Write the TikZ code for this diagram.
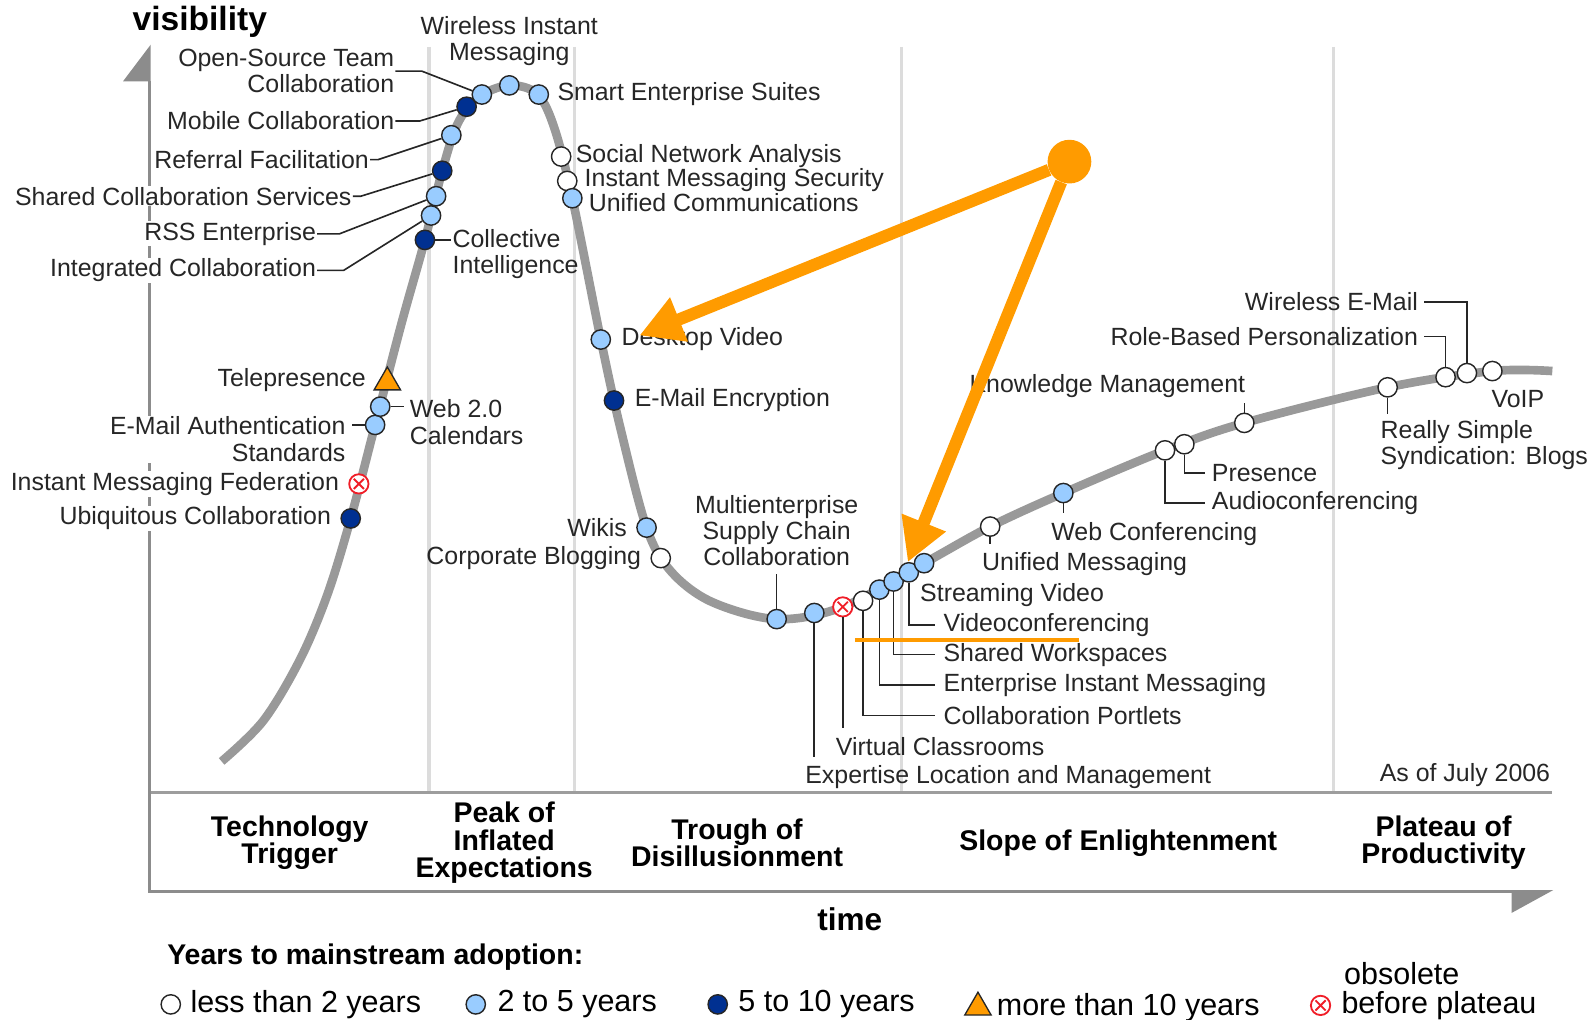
\documentclass[tikz,border=0pt]{standalone}
\usepackage{fontspec}
\setmainfont{Liberation Sans}
\usetikzlibrary{positioning,shapes.geometric,arrows.meta}
\definecolor{hypegray}{RGB}{153,153,153}
\definecolor{axisgray}{RGB}{140,140,140}
\definecolor{phasegray}{RGB}{220,220,220}
\definecolor{ltblue}{RGB}{153,204,255}
\definecolor{dkblue}{RGB}{0,48,145}
\definecolor{hlorange}{RGB}{255,155,0}
\definecolor{obsred}{RGB}{240,30,40}

\begin{document}
\begin{tikzpicture}[x=1pt,y=-1pt,
    dot/.style={circle,draw=black!85,line width=1.4pt,minimum size=19pt,inner sep=0pt},
    wt/.style={dot,fill=white},
    lt/.style={dot,fill=ltblue},
    dk/.style={dot,fill=dkblue},
    tri/.style={regular polygon,regular polygon sides=3,draw=black!85,fill=hlorange,
                line width=1.3pt,minimum size=30pt,inner sep=0pt},
    obs/.style={circle,draw=obsred,fill=white,line width=1.8pt,minimum size=19pt,inner sep=0pt,
                path picture={\draw[obsred,line width=1.8pt]
                  ([xshift=-5pt,yshift=-5pt]path picture bounding box.center) --
                  ([xshift=5pt,yshift=5pt]path picture bounding box.center)
                  ([xshift=-5pt,yshift=5pt]path picture bounding box.center) --
                  ([xshift=5pt,yshift=-5pt]path picture bounding box.center);}},
    lbl/.style={font=\fontsize{24.5}{26}\selectfont,inner sep=1pt,text=black!85},
    lblw/.style={lbl,fill=white},
    lead/.style={draw=black!85,line width=1.6pt},
    phase/.style={font=\fontsize{28}{27}\selectfont\bfseries,align=center},
    lgd/.style={font=\fontsize{30}{30}\selectfont,inner sep=1pt},
    hl/.style={draw=hlorange,line width=12pt,-{Triangle[length=42pt,width=44pt]}}]

\useasboundingbox (0,0) rectangle (1568,1003);

% phases and axes
\foreach \x in {422,565,887,1312}
  \draw[phasegray,line width=3pt] (\x,46) -- (\x,780);
\draw[axisgray!85,line width=3pt] (147,780) -- (1527,780);
\draw[axisgray,line width=2.5pt] (147,80) -- (147,877) -- (1500,877);
\fill[axisgray] (148.2,44) -- (148.2,80) -- (121,80) -- cycle;
\fill[axisgray] (1528,875.5) -- (1487,875.5) -- (1487,898) -- cycle;

% hype curve
\draw[hypegray,line width=8.5pt] plot[smooth,tension=0.55] coordinates {
  (218,749) (259,709) (295,649) (322,585) (345,510) (369,418) (395,318)
  (418,236) (435,168) (450,122) (470,96) (500,84) (528,92) (545,125)
  (563,195) (591,334) (610,420) (636,519) (660,562) (700,592) (764,609)
  (829,597) (909,554) (974,518) (1046,485) (1146,443) (1224,416)
  (1365,381) (1468,365) (1527,365)};

% technologies
\node[dk]  (ubiq)   at (345,510) {};
\node[obs] (imfed)  at (353,476) {};
\node[lt]  (emauth) at (369,418) {};
\node[lt]  (web)    at (374,400) {};
\node[tri] (telep)  at (381,376) {};
\node[dk]  (coll)   at (418,236) {};
\node[lt]  (integ)  at (424,212) {};
\node[lt]  (rss)    at (429,193) {};
\node[dk]  (shcs)   at (435,168) {};
\node[lt]  (refer)  at (444,133) {};
\node[dk]  (mobile) at (459,105) {};
\node[lt]  (osrc)   at (474,93) {};
\node[lt]  (wim)    at (501,84) {};
\node[lt]  (smart)  at (530,93) {};
\node[wt]  (sna)    at (552,154) {};
\node[wt]  (imsec)  at (558,178) {};
\node[lt]  (ucomm)  at (563,195) {};
\node[lt]  (dvid)   at (591,334) {};
\node[dk]  (emenc)  at (604,394) {};
\node[lt]  (wikis)  at (636,519) {};
\node[wt]  (cblog)  at (650,549) {};
\node[lt]  (mscc)   at (764,609) {};
\node[lt]  (expl)   at (801,603) {};
\node[obs] (vclass) at (829,597) {};
\node[wt]  (cport)  at (849,591) {};
\node[lt]  (eim)    at (865,580) {};
\node[lt]  (shws)   at (879,572) {};
\node[lt]  (vconf)  at (894,563) {};
\node[lt]  (svid)   at (909,554) {};
\node[wt]  (umsg)   at (974,518) {};
\node[lt]  (webc)   at (1046,485) {};
\node[wt]  (audio)  at (1146,443) {};
\node[wt]  (pres)   at (1165,437) {};
\node[wt]  (km)     at (1224,416) {};
\node[wt]  (rssb)   at (1365,381) {};
\node[wt]  (rbp)    at (1422,371) {};
\node[wt]  (wem)    at (1443,367) {};
\node[wt]  (voip)   at (1468,365) {};

% labels
\node[font=\fontsize{33}{33}\selectfont\bfseries,anchor=west] (vis) at (127,21) {visibility};
\node[lbl,align=right,anchor=east] (osrcL)   at (389,70)  {Open-Source Team\\Collaboration};
\node[lbl,anchor=east]             (mobileL) at (389,119) {Mobile Collaboration};
\node[lbl,anchor=east]             (referL)  at (364,157) {Referral Facilitation};
\node[lblw,anchor=east]            (shcsL)   at (347,193) {Shared Collaboration Services};
\node[lblw,anchor=east]            (rssL)    at (312,230) {RSS Enterprise};
\node[lblw,anchor=east]            (integL)  at (312,266) {Integrated Collaboration};
\node[lbl,align=left,anchor=west]  (collL)   at (444,250) {Collective\\Intelligence};
\node[lbl,align=center,above=8pt of wim] (wimL) {Wireless Instant\\Messaging};
\node[lbl,right=7pt of smart] (smartL) {Smart Enterprise Suites};
\node[lbl,right=3pt of sna]   (snaL)   {Social Network Analysis};
\node[lbl,anchor=west] (imsecL) at (574,177) {Instant Messaging Security};
\node[lbl,anchor=west] (ucommL) at (578,199) {Unified Communications};
\node[lbl,right=9pt of dvid]  (dvidL)  {Desktop Video};
\node[lbl,right=9pt of emenc] (emencL) {E-Mail Encryption};
\node[lbl,left=8pt of wikis]  (wikisL) {Wikis};
\node[lbl,left=8pt of cblog]  (cblogL) {Corporate Blogging};
\node[lbl,align=center] (msccL) at (764,522) {Multienterprise\\Supply Chain\\Collaboration};
\node[lbl,anchor=east] (telepL) at (361,374) {Telepresence};
\node[lbl,align=left,anchor=west]   (webL)    at (402,415) {Web 2.0\\Calendars};
\node[lblw,align=right,anchor=east] (emauthL) at (341,432) {E-Mail Authentication\\Standards};
\node[lblw,left=8pt of imfed] (imfedL) {Instant Messaging Federation};
\node[lblw,left=8pt of ubiq]  (ubiqL)  {Ubiquitous Collaboration};

\node[lbl,anchor=west] (explL)   at (791,764) {Expertise Location and Management};
\node[lbl,anchor=west] (vclassL) at (821,734) {Virtual Classrooms};
\node[lbl,anchor=west] (cportL)  at (927,704) {Collaboration Portlets};
\node[lbl,anchor=west] (eimL)    at (927,674) {Enterprise Instant Messaging};
\node[lbl,anchor=west] (shwsL)   at (927,644) {Shared Workspaces};
\node[lbl,anchor=west] (vconfL)  at (927,615) {Videoconferencing};
\node[lbl,anchor=west] (svidL)   at (904,585) {Streaming Video};
\node[lbl,anchor=west] (umsgL)   at (965,555) {Unified Messaging};
\node[lbl,anchor=west] (webcL)   at (1033,525) {Web Conferencing};
\node[lbl,anchor=west] (audioL)  at (1191,495) {Audioconferencing};
\node[lbl,anchor=west] (presL)   at (1191,465) {Presence};
\node[lbl,anchor=east] (kmL)     at (1226,380) {Knowledge Management};
\node[lbl,align=left,anchor=west] (rssbL) at (1357,438) {Really Simple\\Syndication: Blogs};
\node[lbl,anchor=east] (rbpL)    at (1396,331) {Role-Based Personalization};
\node[lbl,anchor=east] (wemL)    at (1396,297) {Wireless E-Mail};
\node[lbl,anchor=west] (voipL)   at (1466,393) {VoIP};
\node[lbl,anchor=east] (dateL)   at (1526,762) {As of July 2006};

% leader lines
\draw[lead] (osrcL.east) -- ++(26,0) -- (osrc);
\draw[lead] (mobileL.east) -- ++(24,0) -- (mobile);
\draw[lead] (referL.east) -- ++(8,0) -- (refer);
\draw[lead] (shcsL.east) -- ++(8,0) -- (shcs);
\draw[lead] (rssL.east) -- ++(22,0) -- (rss);
\draw[lead] (integL.east) -- ++(26,0) -- (integ);
\draw[lead] (coll) -- (collL.west |- coll);
\draw[lead] (web) -- ([xshift=-5pt]webL.west |- web);
\draw[lead] (emauth) -- ([xshift=5pt]emauthL.east |- emauth);
\draw[lead] (mscc) -- ++(0,-44);
\draw[lead] (expl) -- ++(0,142);
\draw[lead] (vclass) -- ++(0,119);
\draw[lead] (cport) |- ([xshift=-7pt]cportL.west);
\draw[lead] (eim) |- ([xshift=-7pt]eimL.west);
\draw[lead] (shws) |- ([xshift=-7pt]shwsL.west);
\draw[lead] (vconf) |- ([xshift=-7pt]vconfL.west);
\draw[lead] (umsg) -- ++(0,17);
\draw[lead] (webc) -- ++(0,20);
\draw[lead] (audio) |- ([xshift=-6pt]audioL.west);
\draw[lead] (pres) |- ([xshift=-6pt]presL.west);
\draw[lead] (km) -- ++(0,-20);
\draw[lead] (rssb) -- ++(0,26);
\draw[lead] (rbp) |- ([xshift=5pt]rbpL.east);
\draw[lead] (wem) |- ([xshift=5pt]wemL.east);

% phases
\node[phase] (trigL)  at (285,829)  {Technology\\Trigger};
\node[phase] (peakL)  at (496,829)  {Peak of\\Inflated\\Expectations};
\node[phase] (trouL)  at (725,829)  {Trough of\\Disillusionment};
\node[phase] (slopeL) at (1100,829) {Slope of Enlightenment};
\node[phase] (platL)  at (1420,829) {Plateau of\\Productivity};
\node[font=\fontsize{31}{31}\selectfont\bfseries] (timeL) at (836,904) {time};

% legend
\node[font=\fontsize{28}{28}\selectfont\bfseries,anchor=west] (keyL) at (161,942) {Years to mainstream adoption:};
\node[wt]  (lg1) at (168,988) {};
\node[lgd,right=8pt of lg1] (lg1L) {less than 2 years};
\node[lt]  (lg2) at (468,988) {};
\node[lgd,right=10pt of lg2] (lg2L) {2 to 5 years};
\node[dk]  (lg3) at (706,988) {};
\node[lgd,right=9pt of lg3] (lg3L) {5 to 10 years};
\node[tri] (lg4) at (962,991) {};
\node[lgd,right=8pt of lg4] (lg4L) {more than 10 years};
\node[obs] (lg5) at (1299,989) {};
\node[lgd,right=9pt of lg5] (lg5L) {before plateau};
\node[lgd,anchor=west] (obsL) at (1321,958) {obsolete};

% highlight
\node[circle,fill=hlorange,minimum size=43pt,inner sep=0pt] (hot) at (1052,159) {};
\coordinate (tipA) at (629,330);
\coordinate (tipB) at (893,553);
\draw[hl] (hot) -- (tipA);
\draw[hl] (hot) -- (tipB);
\draw[hlorange,line width=4pt] (841,630) -- (1061,630);
\end{tikzpicture}
\end{document}
